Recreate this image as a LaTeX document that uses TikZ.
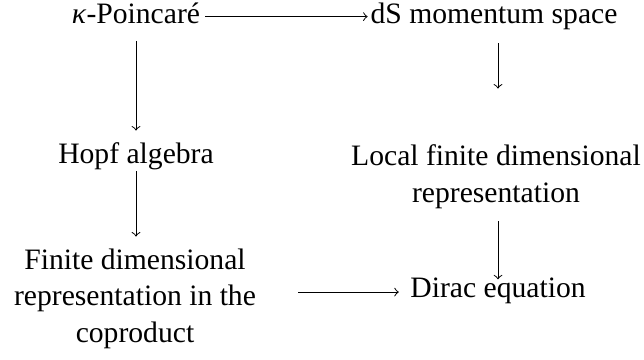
\documentclass[tikz,border=0pt]{standalone}
\usepackage{fontspec}
\setmainfont{Liberation Serif}
\newfontfamily\timesfont{Liberation Serif}
\begin{document}
\begin{tikzpicture}[x=0.405pt, y=-0.405pt, thin,
    main/.style = {inner sep=0pt, align=center, anchor=base, font=\timesfont\fontsize{12}{14.6}\selectfont}]
      \useasboundingbox (0,0) rectangle (644,359);
      \node[main] (poinc) at (136,24) {\textit{κ}-Poincaré};
      \node[main] (dS) at (494,24) {dS momentum space};
      \node[main] (hopf) at (136,163) {Hopf algebra};
      \node[main] (locrep) at (496,202) {Local finite dimensional\\representation};
      \node[main] (finrep) at (135,342) {Finite dimensional\\representation in the\\coproduct};
      \node[main] (dirac) at (498,297) {Dirac equation};
      \coordinate (axis) at ([yshift=2pt]dirac.base west);
      \draw[->, shorten <=2pt, shorten >=1pt] ([yshift=3pt]poinc.base east) -- ([yshift=3pt]dS.base west);
      \draw[->, shorten <=6.5pt, shorten >=4.5pt] (poinc.south) -- (poinc.south |- hopf.north);
      \draw[->, shorten <=0.5pt, shorten >=5pt] (hopf.south) -- (hopf.south |- finrep.north);
      \draw[->, shorten <=5pt, shorten >=22.7pt] (dS.south -| dirac) -- (locrep.north -| dirac);
      \draw[->, shorten <=5pt, shorten >=-1pt] (locrep.south -| dirac) -- (dirac.north);
      \draw[->, shorten <=17pt, shorten >=4.5pt] (finrep.east |- axis) -- (axis);
    \end{tikzpicture}
\end{document}
